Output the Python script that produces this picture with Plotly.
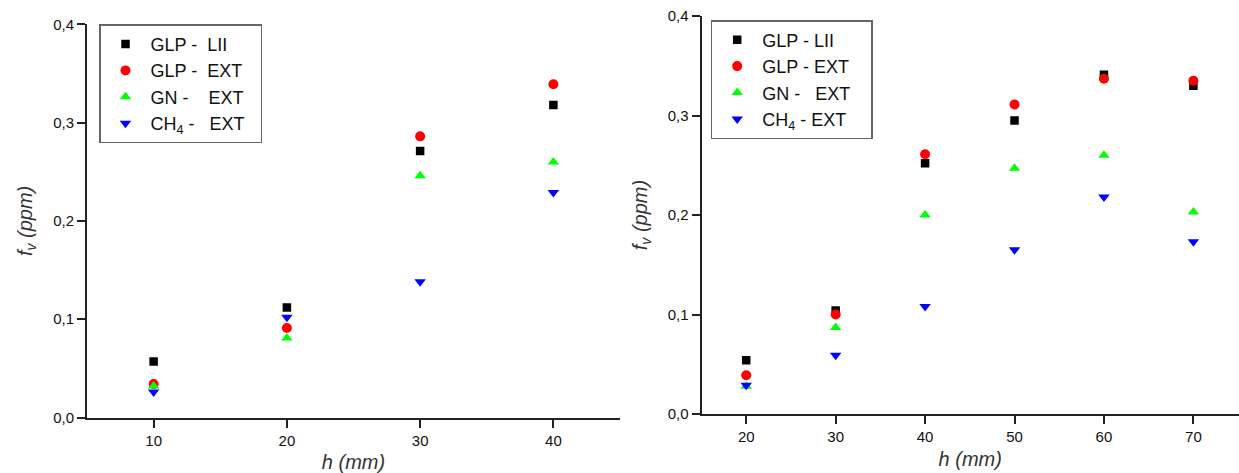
import plotly.graph_objects as go

# ---- data ----
h_left = [10, 20, 30, 40]
glp_lii_left = [0.057, 0.112, 0.271, 0.318]
glp_ext_left = [0.034, 0.091, 0.286, 0.339]
gn_ext_left = [0.032, 0.081, 0.246, 0.260]
ch4_ext_left = [0.026, 0.102, 0.138, 0.229]

h_right = [20, 30, 40, 50, 60, 70]
glp_lii_right = [0.054, 0.104, 0.252, 0.295, 0.341, 0.330]
glp_ext_right = [0.039, 0.100, 0.261, 0.311, 0.337, 0.335]
gn_ext_right = [0.028, 0.087, 0.200, 0.247, 0.260, 0.203]
ch4_ext_right = [0.029, 0.059, 0.108, 0.165, 0.218, 0.173]

names_left = ["GLP -\u00a0\u00a0LII", "GLP -\u00a0\u00a0EXT", "GN -\u00a0\u00a0\u00a0\u00a0EXT",
              "CH<sub>4</sub> -\u00a0\u00a0\u00a0EXT"]
names_right = ["GLP - LII", "GLP - EXT", "GN -\u00a0\u00a0\u00a0EXT", "CH<sub>4</sub> - EXT"]

symbols = ["square", "circle", "triangle-up", "triangle-down"]
colors = ["#000000", "#ff0000", "#00ff00", "#0000ff"]
sizes = [8.5, 10, 10, 10]

fig = go.Figure()

left_series = [glp_lii_left, glp_ext_left, gn_ext_left, ch4_ext_left]
right_series = [glp_lii_right, glp_ext_right, gn_ext_right, ch4_ext_right]

pad_left = "\u00a0\u00a0"
pad_right = "\u00a0\u00a0\u00a0"

for i, ys in enumerate(left_series):
    fig.add_trace(go.Scatter(x=h_left, y=ys, mode="markers", name=names_left[i] + pad_left,
                             marker=dict(symbol=symbols[i], color=colors[i], size=sizes[i], line=dict(width=0)),
                             xaxis="x", yaxis="y", legend="legend"))
for i, ys in enumerate(right_series):
    fig.add_trace(go.Scatter(x=h_right, y=ys, mode="markers", name=names_right[i] + pad_right,
                             marker=dict(symbol=symbols[i], color=colors[i], size=sizes[i], line=dict(width=0)),
                             xaxis="x2", yaxis="y2", legend="legend2"))

axis_common = dict(showgrid=False, zeroline=False, showline=True, linecolor="#222", linewidth=2,
                   ticks="outside", ticklen=8, tickwidth=1.5, tickcolor="#222", automargin=False,
                   tickfont=dict(family="Arial, Liberation Sans", size=15, color="#111"))

title_font = dict(size=20, color="#333", family="Arial, Liberation Sans")
legend_font = dict(size=18, family="Arial, Liberation Sans", color="#111")

W, H = 1239, 473
fig.update_layout(
    width=W, height=H, autosize=False, margin=dict(l=0, r=0, t=0, b=0),
    paper_bgcolor="white", plot_bgcolor="white",
    separators=",.",
    font=dict(family="Arial, Liberation Sans", color="#111"),
    xaxis=dict(domain=[87 / W, 620 / W], range=[5, 45], tickvals=[10, 20, 30, 40], anchor="y",
               title=dict(text="<i>h (mm)</i>", font=title_font, standoff=8),
               **axis_common),
    yaxis=dict(domain=[1 - 417.5 / H, 1 - 24.3 / H], range=[0, 0.4], tickvals=[0, 0.1, 0.2, 0.3, 0.4],
               tickformat=".1f", anchor="x",
               title=dict(text="<i>f<sub>v</sub> (ppm)</i>", font=title_font, standoff=15),
               **axis_common),
    xaxis2=dict(domain=[701.5 / W, 1.0], range=[15, 75.1], tickvals=[20, 30, 40, 50, 60, 70], anchor="y2",
                title=dict(text="<i>h (mm)</i>", font=title_font, standoff=8),
                **axis_common),
    yaxis2=dict(domain=[1 - 414 / H, 1 - 16 / H], range=[0, 0.4], tickvals=[0, 0.1, 0.2, 0.3, 0.4],
                tickformat=".1f", anchor="x2",
                title=dict(text="<i>f<sub>v</sub> (ppm)</i>", font=title_font, standoff=15),
                **axis_common),
    legend=dict(x=99 / W, y=1 - 24.3 / H, xanchor="left", yanchor="top",
                bordercolor="#666", borderwidth=1.5, bgcolor="white",
                font=legend_font, tracegroupgap=0, itemwidth=40),
    legend2=dict(x=710.7 / W, y=1 - 20 / H, xanchor="left", yanchor="top",
                 bordercolor="#666", borderwidth=1.5, bgcolor="white",
                 font=legend_font, tracegroupgap=0, itemwidth=40),
)

fig.write_html(
    "out.html",
    config={"displayModeBar": False, "responsive": False},
    post_script=(
        "document.documentElement.style.margin='0px';document.documentElement.style.padding='0px';"
        "document.documentElement.style.overflow='hidden';"
        "document.body.style.margin='0px';document.body.style.padding='0px';"
        "document.body.style.overflow='hidden';"
    ),
)
